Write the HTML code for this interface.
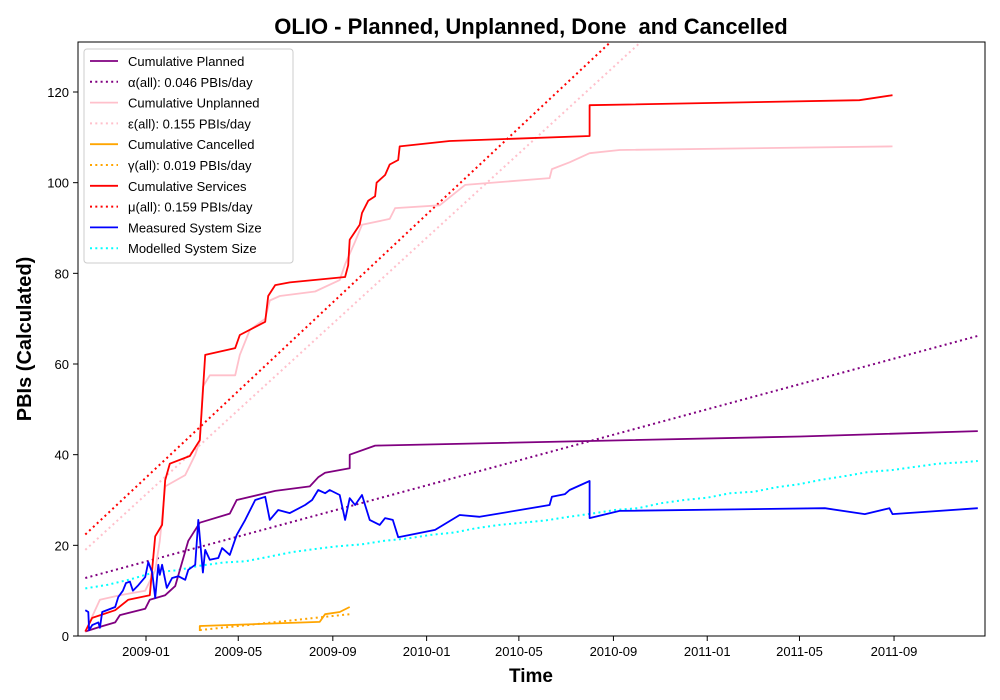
<!DOCTYPE html>
<html><head><meta charset="utf-8"><style>
body{margin:0;background:#fff;}
svg{display:block;font-family:"Liberation Sans",sans-serif;}
</style></head><body>
<svg id="chart" width="1000" height="700" xmlns="http://www.w3.org/2000/svg">
<defs><clipPath id="clip"><rect x="78" y="42" width="907" height="594"/></clipPath></defs>
<text x="531" y="34" text-anchor="middle" font-size="22" font-weight="bold">OLIO - Planned, Unplanned, Done&#160; and Cancelled</text>
<text x="531" y="682" text-anchor="middle" font-size="19" font-weight="bold">Time</text>
<text transform="translate(31,339) rotate(-90)" text-anchor="middle" font-size="20" font-weight="bold">PBIs (Calculated)</text>
<g id="marks" clip-path="url(#clip)"></g>
<g id="axes"></g>
<rect x="78" y="42" width="907" height="594" fill="none" stroke="#000" stroke-width="1"/>
<g id="legend"></g>
</svg>
<script>
// days since 2009-01-01
const plannedDays=[-79,-60,-40,-34,-1,5,25,38,55,70,109,118,168,213,224,233,265,265,298,851,1082];
const plannedVals=[1,2,3,4.6,6,8,9,11,21,25,27,30,32,33,35,36,37,40,42,44,45.2];
const unplannedDays=[-79,-60,-34,-1,12,18,25,51,64,70,74,83,116,122,135,155,161,174,220,252,259,272,281,317,324,382,415,525,528,551,577,616,971];
const unplannedVals=[1,8,9,10,14.5,21,33,35.5,40,43,55,57.5,57.5,62,67.5,70,74,75,76,78.5,82,87,90.7,92,94.4,95,99.5,101,103,104.5,106.5,107.2,108];
const servicesDays=[-79,-70,-40,-23,5,12,21,25,31,57,70,74,77,116,122,155,159,168,187,259,263,265,278,281,289,298,300,311,317,328,330,395,577,577,928,971];
const servicesVals=[1,4,5.7,8,9,22,24.5,34.4,38,39.7,43.2,54,62,63.5,66.4,69.3,75,77.4,78,79.2,81.8,87.4,90.7,93.3,96,97,100,101.7,104,105,108,109.2,110.3,117.1,118.2,119.3];
const cancelledDays=[70,70,226,233,252,265];
const cancelledVals=[1.1,2.2,3.1,4.8,5.3,6.4];
const measuredDays=[-79,-75,-74,-70,-62,-60,-57,-40,-36,-30,-26,-21,-17,-10,-1,3,8,12,16,18,21,27,34,42,51,55,64,68,74,77,83,94,99,109,118,129,142,155,161,172,187,207,216,224,233,239,252,259,265,272,281,291,304,311,321,328,376,408,434,525,528,545,551,577,577,616,883,935,967,971,1082];
const measuredVals=[5.7,5.3,1.3,2.4,3,1.8,5.3,6.4,8.6,10,11.7,12,10,11.2,13,16.3,14,8.4,15.7,13.5,15.7,10.6,12.8,13.2,12.4,14.6,15.7,25.6,14,19,16.8,17.2,19.4,17.9,22.3,25.6,30,30.7,25.6,27.8,27.1,28.9,30,32.2,31.5,32.2,31.1,25.6,30.4,28.9,31.1,25.6,24.5,26,25.6,21.8,23.4,26.7,26.3,28.9,30.7,31.3,32.2,34.2,26,27.6,28.2,26.9,28.2,26.9,28.2];
const modelDays=[-79,-50,-20,10,40,70,100,130,160,190,220,250,280,310,340,370,400,430,460,490,520,550,580,610,640,670,700,730,760,790,820,850,880,910,940,970,1000,1030,1060,1082];
const modelVals=[10.5,11.3,12.5,14,14.5,15.5,16.2,16.5,17.5,18.5,19.2,19.8,20.2,21,21.5,22.3,22.8,23.8,24.5,25,25.5,26.3,27,27.8,28.2,29.3,30,30.5,31.5,31.8,32.8,33.5,34.5,35.3,36.2,36.6,37.3,38,38.3,38.6];
const alphaDays=[-79,1082], alphaVals=[12.8,66.2];
const epsDays=[-79,1082], epsVals=[19,199];
const muDays=[-79,1082], muVals=[22.4,207];
const gammaDays=[70,265], gammaVals=[1.3,4.8];
const yTicks=[0,20,40,60,80,100,120];
const xTickDays=[0,120,243,365,485,608,730,850,973];
const xTickLabels=["2009-01","2009-05","2009-09","2010-01","2010-05","2010-09","2011-01","2011-05","2011-09"];
const legendLabels=["Cumulative Planned","α(all): 0.046 PBIs/day","Cumulative Unplanned","ε(all): 0.155 PBIs/day","Cumulative Cancelled","γ(all): 0.019 PBIs/day","Cumulative Services","μ(all): 0.159 PBIs/day","Measured System Size","Modelled System Size"];

const NS="http://www.w3.org/2000/svg";
const xs=d=>146+d*0.7688;
const ys=v=>636-v*4.5333;
const marks=document.getElementById('marks'), axes=document.getElementById('axes'), leg=document.getElementById('legend');
function mk(tag,attrs,parent){const e=document.createElementNS(NS,tag);for(const k in attrs)e.setAttribute(k,attrs[k]);parent.appendChild(e);return e;}
function line(days,vals,color,dotted,name){
  const pts=days.map((d,i)=>xs(d).toFixed(1)+','+ys(vals[i]).toFixed(1)).join(' ');
  const p=mk('polyline',{points:pts,fill:'none',stroke:color,'stroke-width':dotted?2:1.8,'stroke-dasharray':dotted?'2,3.3':'none','stroke-linejoin':'round'},marks);
  
  
}
line(epsDays,epsVals,'pink',true,'epsilon-trend-line');
line(muDays,muVals,'red',true,'mu-trend-line');
line(alphaDays,alphaVals,'purple',true,'alpha-trend-line');
line(gammaDays,gammaVals,'orange',true,'gamma-trend-line');
line(modelDays,modelVals,'cyan',true,'modelled-system-size-line');
line(plannedDays,plannedVals,'purple',false,'cumulative-planned-line');
line(unplannedDays,unplannedVals,'pink',false,'cumulative-unplanned-line');
line(cancelledDays,cancelledVals,'orange',false,'cumulative-cancelled-line');
line(servicesDays,servicesVals,'red',false,'cumulative-services-line');
line(measuredDays,measuredVals,'blue',false,'measured-system-size-line');

yTicks.forEach(v=>{
  const y=ys(v);
  const t=mk('line',{x1:73,x2:78,y1:y,y2:y,stroke:'#000'},axes);
  
  
  const l=mk('text',{x:69,y:y+5,'text-anchor':'end','font-size':13},axes);
  l.textContent=v;
  
  
});
xTickDays.forEach((d,i)=>{
  const x=xs(d);
  const t=mk('line',{x1:x,x2:x,y1:636,y2:641,stroke:'#000'},axes);
  
  
  const l=mk('text',{x:x,y:656,'text-anchor':'middle','font-size':13},axes);
  l.textContent=xTickLabels[i];
  
  
});
const box=mk('rect',{x:84,y:49,width:209,height:214,rx:3,fill:'#fff','fill-opacity':0.85,stroke:'#ccc'},leg);


const legColors=['purple','purple','pink','pink','orange','orange','red','red','blue','cyan'];
legendLabels.forEach((lab,i)=>{
  const y=61+i*20.8;
  const dotted=(i%2===1&&i<8)||i===9;
  const s=mk('line',{x1:90,x2:118,y1:y,y2:y,stroke:legColors[i],'stroke-width':dotted?2:1.8,'stroke-dasharray':dotted?'2,3.3':'none'},leg);
  
  
  const t=mk('text',{x:128,y:y+5,'font-size':13},leg);
  t.textContent=lab;
  
  
});
</script>
</body></html>
